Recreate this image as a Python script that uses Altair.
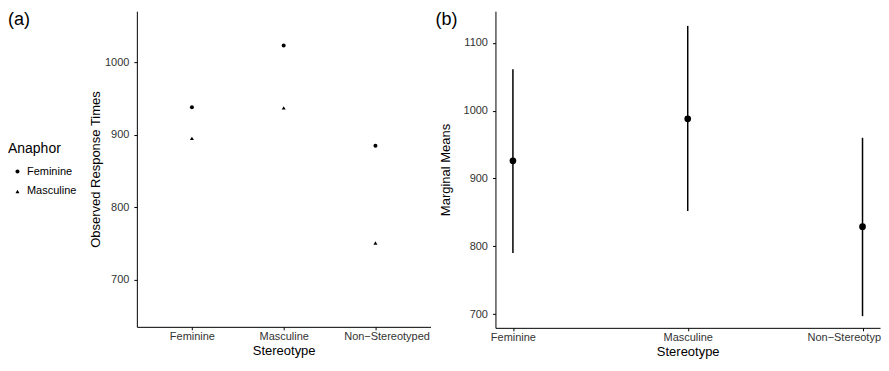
import altair as alt
import pandas as pd

FONT = "Liberation Sans"

stereotype = ["Feminine", "Masculine", "Non−Stereotyped"]
anaphor = ["Feminine", "Masculine"]
obs_feminine = [938, 1023, 885]
obs_masculine = [895, 937, 751]
marg_mean = [926, 988, 829]
marg_lower = [790, 852, 697]
marg_upper = [1061, 1125, 960]
panel_labels = ["(a)", "(b)"]

rows = []
for s, f, m in zip(stereotype, obs_feminine, obs_masculine):
    rows.append({"Stereotype": s, "Anaphor": "Feminine", "RT": f})
    rows.append({"Stereotype": s, "Anaphor": "Masculine", "RT": m})
df_a = pd.DataFrame(rows)
df_b = pd.DataFrame({"Stereotype": stereotype, "mean": marg_mean,
                     "lo": marg_lower, "hi": marg_upper})

axis_common = dict(labelFont=FONT, titleFont=FONT, labelFontSize=11, titleFontSize=13,
                   labelColor="#333333", titleColor="black", titleFontWeight="normal",
                   domainColor="black", tickColor="black", tickSize=3, grid=False)

LAST = "datum.value == 'Non−Stereotyped'"


def x_axis(offset, expr=None):
    kw = dict(title="Stereotype", labelAngle=0, titlePadding=3, labelPadding=1,
              labelAlign={"condition": {"test": LAST, "value": "right"}, "value": "center"},
              labelOffset={"condition": {"test": LAST, "value": offset}, "value": 0},
              **axis_common)
    if expr:
        kw["labelExpr"] = expr
    return alt.Axis(**kw)


x_a = alt.X("Stereotype:N", sort=stereotype,
            scale=alt.Scale(type="point", padding=0.6), axis=x_axis(54))
y_a = alt.Y("RT:Q", scale=alt.Scale(domain=[635.4, 1070.2], nice=False, zero=False),
            axis=alt.Axis(title="Observed Response Times", values=[700, 800, 900, 1000],
                          format="d", titlePadding=2, labelPadding=5, **axis_common))

pts_a = alt.Chart(df_a).mark_point(filled=True, color="black", opacity=1, size=16).encode(
    x=x_a, y=y_a,
    shape=alt.Shape("Anaphor:N",
                    scale=alt.Scale(domain=anaphor, range=["circle", "triangle-up"]),
                    legend=alt.Legend(orient="none", legendX=-129, legendY=131,
                                      title="Anaphor", titleFont=FONT, titleFontSize=14,
                                      titleFontWeight="normal", titleColor="black",
                                      titlePadding=10, labelFont=FONT, labelFontSize=11,
                                      labelColor="black", symbolFillColor="black",
                                      symbolStrokeColor="black", symbolSize=16,
                                      symbolOffset=4, labelOffset=4, rowPadding=8,
                                      padding=0)),
)
lab_a = alt.Chart(pd.DataFrame({"t": [panel_labels[0]]})).mark_text(
    align="left", baseline="top", fontSize=18, font=FONT, color="black"
).encode(x=alt.value(-129), y=alt.value(0), text="t:N")

panel_a = alt.layer(pts_a, lab_a).properties(width=294, height=316)

x_b = alt.X("Stereotype:N", sort=stereotype,
            scale=alt.Scale(type="point", padding=0.1),
            axis=x_axis(18, "datum.value == 'Non−Stereotyped' ? 'Non−Stereotyp' : datum.label"))
y_scale_b = alt.Scale(domain=[679.8, 1146.7], nice=False, zero=False)
y_axis_b = alt.Axis(title="Marginal Means", values=[700, 800, 900, 1000, 1100], format="d",
                    titlePadding=11, labelPadding=5, **axis_common)

rule_b = alt.Chart(df_b).mark_rule(color="black", strokeWidth=1.5).encode(
    x=x_b, y=alt.Y("lo:Q", scale=y_scale_b, axis=y_axis_b), y2="hi:Q")
pts_b = alt.Chart(df_b).mark_circle(color="black", opacity=1, size=45).encode(
    x=x_b, y=alt.Y("mean:Q", scale=y_scale_b, axis=y_axis_b))
lab_b = alt.Chart(pd.DataFrame({"t": [panel_labels[1]]})).mark_text(
    align="left", baseline="top", fontSize=18, font=FONT, color="black"
).encode(x=alt.value(-60), y=alt.value(0), text="t:N")

panel_b = alt.layer(rule_b, pts_b, lab_b).properties(width=385, height=317)

chart = alt.hconcat(panel_a, panel_b, spacing=5).properties(
    padding={"left": 0, "top": 3, "right": 0, "bottom": 0}
).configure(font=FONT).configure_view(stroke=None)

chart.save("out.html", embed_options={"renderer": "svg", "actions": False})
